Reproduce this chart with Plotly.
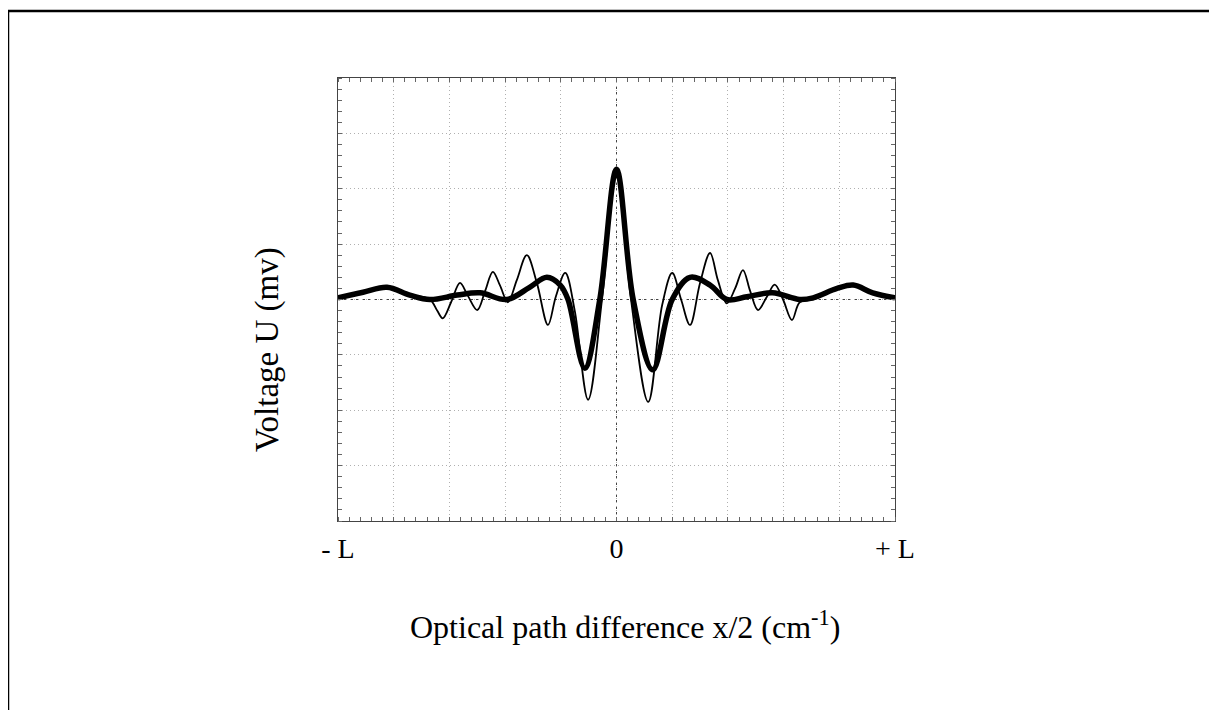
import plotly.graph_objects as go

# x in screen divisions (-5 .. +5  ->  -L .. +L), y in vertical divisions
thin_x = [-5.0, -4.55, -4.12, -3.71, -3.35, -3.22, -3.12, -2.97, -2.81, -2.67, -2.5, -2.36, -2.22, -2.09,
          -1.95, -1.79, -1.61, -1.43, -1.23, -1.09, -0.92, -0.75, -0.51, -0.26, 0.0, 0.26, 0.57, 0.82,
          1.0, 1.16, 1.32, 1.5, 1.68, 1.82, 1.98, 2.13, 2.27, 2.4, 2.54, 2.7, 2.84, 2.99, 3.15, 3.29,
          3.53, 3.96, 4.25, 4.6, 5.0]
thin_y = [0.03, 0.12, 0.22, 0.08, 0.0, -0.2, -0.34, -0.05, 0.3, 0.07, -0.19, 0.15, 0.5, 0.25,
          -0.05, 0.35, 0.8, 0.3, -0.46, 0.05, 0.48, -0.2, -1.81, 0.0, 2.38, 0.0, -1.85, -0.1,
          0.48, 0.0, -0.46, 0.3, 0.84, 0.35, -0.07, 0.2, 0.53, 0.15, -0.19, 0.05, 0.27, 0.0, -0.37, -0.05,
          0.0, 0.2, 0.26, 0.12, 0.03]

thick_x = [-5.0, -4.55, -4.12, -3.71, -3.35, -2.86, -2.45, -1.97, -1.56, -1.25, -1.01, -0.87, -0.57,
           -0.3, 0.0, 0.3, 0.65, 1.0, 1.32, 1.68, 1.98, 2.34, 2.8, 3.29, 3.53, 3.96, 4.25, 4.6, 5.0]
thick_y = [0.03, 0.13, 0.22, 0.08, 0.0, 0.08, 0.12, 0.0, 0.22, 0.4, 0.26, 0.0, -1.24,
           0.0, 2.35, 0.0, -1.27, 0.0, 0.4, 0.26, 0.0, 0.05, 0.12, 0.0, 0.03, 0.2, 0.26, 0.12, 0.03]

x_tickvals = [-5, -4, -3, -2, -1, 0, 1, 2, 3, 4, 5]
x_ticktext = ["- L", "", "", "", "", "0", "", "", "", "", "+ L"]
y_tickvals = [-4, -3, -2, -1, 0, 1, 2, 3, 4]

x_title = "Optical path difference x/2 (cm<sup>-1</sup>)"
y_title = "Voltage U (mv)"

FONT = "Liberation Serif, Times New Roman, serif"

W, H = 1201, 702
ML, MT, PW, PH = 330, 70, 557, 443
MR, MB = W - ML - PW, H - MT - PH


def px(fx):
    return (fx - ML) / PW


def py(fy):
    return (MT + PH - fy) / PH


fig = go.Figure()
fig.add_trace(go.Scatter(x=thick_x, y=thick_y, mode="lines",
                         line=dict(color="black", width=5.5, shape="spline", smoothing=1.0),
                         showlegend=False, hoverinfo="skip"))
fig.add_trace(go.Scatter(x=thin_x, y=thin_y, mode="lines",
                         line=dict(color="black", width=1.8, shape="spline", smoothing=1.0),
                         showlegend=False, hoverinfo="skip"))

grid_color = "#b0b0b0"
fig.update_layout(
    width=W, height=H,
    margin=dict(l=ML, r=MR, t=MT, b=MB),
    paper_bgcolor="white", plot_bgcolor="white",
    font=dict(family=FONT, color="black"),
    xaxis=dict(range=[-5, 5], tickmode="array", tickvals=x_tickvals, ticktext=x_ticktext,
               showgrid=True, gridcolor=grid_color, griddash="1px,3px", gridwidth=1,
               zeroline=False, showline=True, linecolor="#444", linewidth=1, mirror="allticks",
               ticks="", ticklabelstandoff=2, tickfont=dict(size=28, family=FONT, color="black"),
               minor=dict(dtick=0.2, ticks="inside", ticklen=4, tickcolor="#666", showgrid=False)),
    yaxis=dict(range=[-4, 4], tickmode="array", tickvals=y_tickvals,
               showgrid=True, gridcolor=grid_color, griddash="1px,3px", gridwidth=1,
               zeroline=False, showline=True, linecolor="#444", linewidth=1, mirror="allticks",
               ticks="", showticklabels=False,
               minor=dict(dtick=0.2, ticks="inside", ticklen=4, tickcolor="#666", showgrid=False)),
    xaxis2=dict(range=[-5, 5], overlaying="x", anchor="free", position=0.5, side="bottom",
                showgrid=False, zeroline=False, showline=False, showticklabels=False,
                ticks="", minor=dict(dtick=0.2, ticks="inside", ticklen=4, tickcolor="#555")),
    yaxis2=dict(range=[-4, 4], overlaying="y", anchor="free", position=0.5, side="left",
                showgrid=False, zeroline=False, showline=False, showticklabels=False,
                ticks="", minor=dict(dtick=0.2, ticks="inside", ticklen=4, tickcolor="#555")),
    annotations=[
        dict(text=x_title, xref="paper", yref="paper", x=px(617), y=py(617),
             xanchor="center", yanchor="middle", showarrow=False,
             font=dict(size=32, family=FONT, color="black")),
        dict(text=y_title, xref="paper", yref="paper", x=px(259), y=py(342),
             xanchor="center", yanchor="middle", showarrow=False, textangle=-90,
             font=dict(size=33, family=FONT, color="black")),
    ],
)

# darker centre crosshair (reference lines)
fig.add_shape(type="line", xref="x", yref="paper", x0=0, x1=0, y0=0, y1=1,
              line=dict(color="#444", width=1, dash="dot"), layer="below")
fig.add_shape(type="line", xref="paper", yref="y", x0=0, x1=1, y0=0, y1=0,
              line=dict(color="#444", width=1, dash="dot"), layer="below")

# outer frame of the figure
fig.add_shape(type="rect", xref="paper", yref="paper",
              x0=px(0), x1=px(W + 20), y0=py(H + 20), y1=py(3),
              line=dict(color="black", width=2.5), fillcolor="rgba(0,0,0,0)")

fig.write_html("out.html")
